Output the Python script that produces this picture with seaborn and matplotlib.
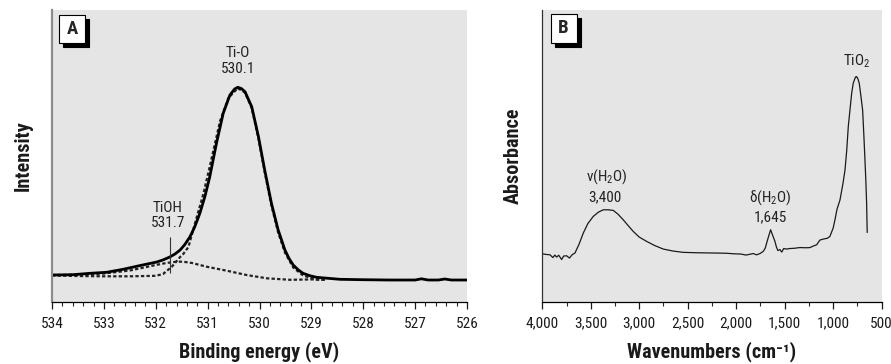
import numpy as np
import pandas as pd
import matplotlib
matplotlib.use('Agg')
import matplotlib.pyplot as plt
from matplotlib.patches import Rectangle
from matplotlib.ticker import MultipleLocator, StrMethodFormatter
import seaborn as sns

sns.set_style("white")
plt.rcParams['font.family'] = ['Roboto Condensed', 'Liberation Sans Narrow', 'DejaVu Sans']
plt.rcParams['mathtext.default'] = 'regular'

# ---- panel A: XPS O1s ----
xps_ev = [534.0, 533.6, 533.27, 532.95, 532.63, 532.3, 531.98, 531.85, 531.73, 531.63,
          531.53, 531.44, 531.34, 531.25, 531.15, 531.05, 530.96, 530.83, 530.70, 530.57,
          530.48, 530.42, 530.35, 530.28, 530.15, 530.02, 529.90, 529.77, 529.64, 529.51,
          529.43, 529.35, 529.25, 529.16, 529.03, 528.90, 528.45, 528.0, 527.5, 527.0,
          526.88, 526.75, 526.55, 526.43, 526.3, 526.0]
xps_total = [27.0, 27.3, 28.7, 29.7, 32.7, 36.5, 40.0, 42.3, 45.0, 48.0,
             52.0, 57.5, 65.3, 75.0, 88.7, 106.0, 125.0, 158.7, 188.7, 207.0,
             213.0, 214.7, 213.5, 210.3, 195.3, 165.3, 132.0, 98.7, 72.0, 52.0,
             43.5, 37.0, 32.0, 28.7, 26.3, 24.7, 22.7, 22.3, 22.0, 22.0,
             23.2, 22.0, 22.0, 23.0, 22.0, 22.0]

tio_ev = [534.0, 533.5, 533.0, 532.5, 532.0, 531.86, 531.69, 531.53, 531.47, 531.37,
          531.28, 531.08, 530.96, 530.76, 530.6, 530.42, 530.28, 530.15, 530.02, 529.90,
          529.77, 529.64, 529.51, 529.35, 529.16, 528.90, 528.7]
tio_vals = [26.5, 26.0, 25.7, 25.7, 26.2, 28.0, 35.3, 45.0, 48.0, 55.0,
            72.0, 108.7, 135.3, 181.0, 204.0, 213.8, 209.5, 194.0, 163.5, 130.0,
            96.5, 69.5, 49.5, 34.5, 26.5, 22.5, 22.0]

tioh_ev = [534.0, 533.5, 533.0, 532.5, 532.0, 531.8, 531.6, 531.47, 531.3, 531.02,
           530.63, 530.25, 529.86, 529.41, 529.0, 528.7]
tioh_vals = [27.0, 27.3, 28.5, 31.5, 37.0, 39.0, 40.3, 40.3, 39.0, 35.3,
             31.3, 27.0, 23.7, 22.2, 22.6, 22.3]

tioh_marker = [531.73, 29.3, 65.3]   # position, bottom, top

# ---- panel B: IR spectrum ----
ir_wn = [4000, 3960, 3921, 3890, 3870, 3852, 3830, 3800, 3780, 3749, 3720, 3690, 3663,
         3620, 3577, 3530, 3474, 3420, 3371, 3320, 3268, 3220, 3165, 3110, 3062, 3000,
         2924, 2840, 2752, 2650, 2546, 2400, 2202, 2100, 2030, 1950, 1900, 1858, 1824,
         1790, 1755, 1721, 1700, 1686, 1665, 1645, 1625, 1600, 1585, 1570, 1549, 1530,
         1510, 1480, 1450, 1400, 1343, 1280, 1239, 1205, 1170, 1137, 1102, 1060, 1034,
         1000, 982, 960, 930, 900, 878, 860, 844, 827, 809, 793, 775, 765, 758, 745,
         731, 715, 696, 684, 672, 662, 655, 649]
ir_abs = [48.3, 47.6, 47.3, 44.5, 47.0, 45.0, 46.8, 42.5, 46.0, 46.3, 44.0, 47.5, 49.0,
          58.0, 69.0, 78.5, 85.7, 90.0, 92.3, 92.3, 91.7, 88.0, 82.3, 76.0, 70.7, 65.0,
          60.7, 56.5, 53.0, 51.0, 49.7, 49.3, 49.0, 48.8, 48.3, 48.0, 47.0, 47.8, 48.5,
          47.2, 48.5, 50.7, 54.0, 59.0, 66.0, 72.3, 67.0, 60.6, 55.0, 51.5, 52.5, 50.0,
          53.5, 53.0, 53.5, 53.8, 54.5, 54.3, 54.5, 56.0, 57.3, 62.0, 63.0, 63.8, 65.6,
          74.0, 82.0, 93.0, 102.0, 118.0, 132.0, 152.0, 175.6, 192.0, 209.0, 219.0,
          224.0, 225.6, 225.6, 223.5, 219.0, 207.0, 192.0, 168.0, 142.0, 119.0, 99.0, 69.6]

xps_df = pd.DataFrame({'ev': xps_ev, 'val': xps_total})
tio_df = pd.DataFrame({'ev': tio_ev, 'val': tio_vals})
tioh_df = pd.DataFrame({'ev': tioh_ev, 'val': tioh_vals})
ir_df = pd.DataFrame({'wn': ir_wn, 'val': ir_abs})

fig = plt.figure(figsize=(8.91, 3.64), dpi=100)
ax1 = fig.add_axes([0.0584, 0.1703, 0.4657, 0.8022])
ax2 = fig.add_axes([0.6086, 0.1703, 0.3809, 0.8022])

bg = '#e5e5e5'
ann = dict(ha='center', va='center', fontsize=11, color='#222222')
lab = dict(fontsize=14.5, fontweight='bold', color='#1a1a1a')

# panel A
sns.lineplot(data=tio_df, x='ev', y='val', ax=ax1, color='#222222', lw=1.6,
             ls=(0, (1.5, 1.0)), estimator=None, sort=False)
sns.lineplot(data=tioh_df, x='ev', y='val', ax=ax1, color='#222222', lw=1.6,
             ls=(0, (1.5, 1.0)), estimator=None, sort=False)
sns.lineplot(data=xps_df, x='ev', y='val', ax=ax1, color='black', lw=2.0,
             estimator=None, sort=False)
ax1.vlines(tioh_marker[0], tioh_marker[1], tioh_marker[2], color='#333333', lw=0.8)
ax1.set_xlim(534, 526)
ax1.set_ylim(0, 292)
ax1.xaxis.set_major_locator(MultipleLocator(1))
ax1.xaxis.set_minor_locator(MultipleLocator(0.2))
ax1.spines['left'].set_color('#8c8c8c')
ax1.spines['left'].set_linewidth(1.6)
ax1.set_xlabel('Binding energy (eV)', labelpad=8, **lab)
ax1.set_ylabel('Intensity', labelpad=14, visible=True, **lab)
ax1.text(530.42, 248.7, 'Ti-O', **ann)
ax1.text(530.42, 233.0, '530.1', **ann)
ax1.text(531.77, 94.3, 'TiOH', **ann)
ax1.text(531.77, 78.7, '531.7', **ann)

# panel B
sns.lineplot(data=ir_df, x='wn', y='val', ax=ax2, color='#1a1a1a', lw=0.9,
             estimator=None, sort=False)
ax2.set_xlim(4000, 500)
ax2.set_ylim(0, 292.3)
ax2.xaxis.set_major_locator(MultipleLocator(500))
ax2.xaxis.set_minor_locator(MultipleLocator(250))
ax2.xaxis.set_major_formatter(StrMethodFormatter('{x:,.0f}'))
ax2.spines['left'].set_color('#333333')
ax2.spines['left'].set_linewidth(0.9)
ax2.set_xlabel('Wavenumbers (cm\u207b\u00b9)', labelpad=8, **lab)
ax2.set_ylabel('Absorbance', labelpad=14, visible=True, **lab)
ax2.text(3336, 125.6, '\u03bd(H$_2$O)', **ann)
ax2.text(3350, 104.6, '3,400', **ann)
ax2.text(1652, 104.6, '\u03b4(H$_2$O)', **ann)
ax2.text(1652, 85.0, '1,645', **ann)
ax2.text(752, 240.6, 'TiO$_2$', **ann)

for ax in (ax1, ax2):
    ax.set_facecolor(bg)
    ax.spines['top'].set_visible(False)
    ax.spines['right'].set_visible(False)
    ax.spines['bottom'].set_color('black')
    ax.spines['bottom'].set_linewidth(0.9)
    ax.set_yticks([])
    ax.tick_params(axis='x', which='major', direction='out', length=5, width=0.9,
                   labelsize=11, pad=5.5, bottom=True, colors='#1a1a1a')
    ax.tick_params(axis='x', which='minor', direction='out', length=2.8, width=0.8, bottom=True)

# panel letters with drop shadow
def panel_box(ax, x0, y0, w, h, letter, dx, dy):
    ax.add_patch(Rectangle((x0 + dx, y0 - dy), w, h, transform=ax.transAxes,
                           facecolor='black', edgecolor='black', lw=0.8, zorder=5, clip_on=False))
    ax.add_patch(Rectangle((x0, y0), w, h, transform=ax.transAxes,
                           facecolor='white', edgecolor='black', lw=0.8, zorder=6, clip_on=False))
    ax.text(x0 + w / 2, y0 + h / 2, letter, transform=ax.transAxes, ha='center', va='center',
            fontsize=13.5, fontweight='bold', zorder=7)

panel_box(ax1, 0.0176, 0.886, 0.062, 0.097, 'A', 0.0096, 0.0137)
panel_box(ax2, 0.0247, 0.888, 0.0766, 0.100, 'B', 0.0118, 0.0137)

fig.savefig('out.png', dpi=100)
